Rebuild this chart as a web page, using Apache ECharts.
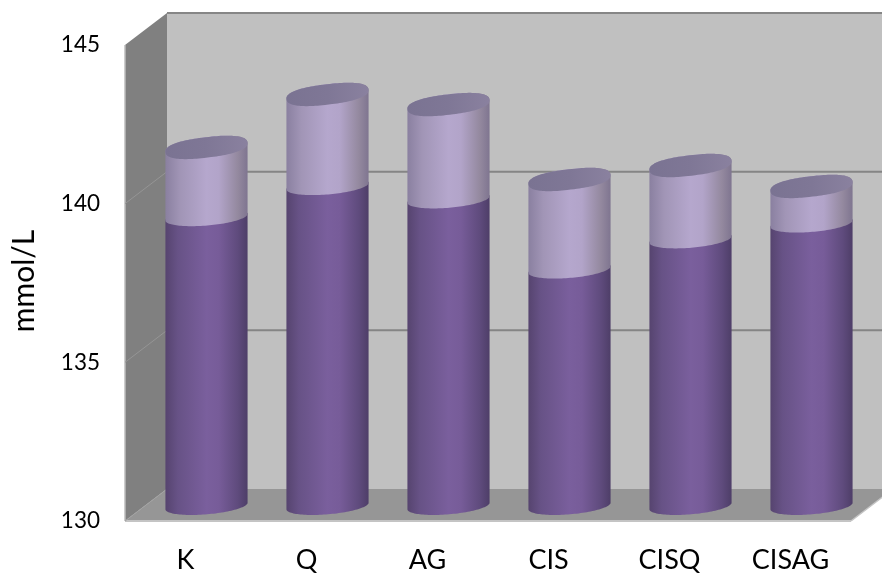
<!DOCTYPE html>
<html>
<head>
<meta charset="utf-8">
<style>html,body{margin:0;padding:0;background:#fff}#c{width:882px;height:574px}</style>
<script src="https://cdn.jsdelivr.net/npm/echarts@6/dist/echarts.min.js"></script>
</head>
<body>
<div id="c"></div>
<script>
var categories = ['K', 'Q', 'AG', 'CIS', 'CISQ', 'CISAG'];
var lowerValues = [139.1, 140.08, 139.66, 137.45, 138.4, 138.9];
var upperHeights = [2.2, 2.89, 2.99, 2.84, 2.33, 1.17];
var gridTicks = [135, 140];
var yMin = 130, yMax = 145, yStep = 5;

var DX = 42, DY = -32;   // wall depth
var CYL_DX = 21, CYL_DY = -15;
var SECTION_RIM = { b: 8.3, tilt: -4.8 * Math.PI / 180, n: 2 };
var CAP_RIM = { b: 10.2, tilt: -6.8 * Math.PI / 180, n: 2.4 };

// outline of a tilted rim, split into the front (lower) and back (upper) halves
function rim(cx, cy, a, spec) {
  var pts = [], N = 120, ct = Math.cos(spec.tilt), st = Math.sin(spec.tilt), e = 2 / spec.n;
  for (var i = 0; i < N; i++) {
    var t = 2 * Math.PI * i / N;
    var c = Math.cos(t), s = Math.sin(t);
    var u = Math.sign(c) * Math.pow(Math.abs(c), e) * a;
    var v = Math.sign(s) * Math.pow(Math.abs(s), e) * spec.b;
    pts.push([u * ct - v * st, u * st + v * ct]);
  }
  var r = 0, l = 0;
  pts.forEach(function (p, i) {
    if (p[0] > pts[r][0]) r = i;
    if (p[0] < pts[l][0]) l = i;
  });
  var k = a / pts[r][0];
  var abs = pts.map(function (p) { return [cx + p[0] * k, cy + p[1]]; });
  var lower = [], upper = [];
  for (var j = r; ; j = (j + 1) % N) { lower.push(abs[j]); if (j === l) break; }
  for (var m = l; ; m = (m + 1) % N) { upper.push(abs[m]); if (m === r) break; }
  return { lower: lower, upper: upper };
}
function hGrad(stops) {
  return new echarts.graphic.LinearGradient(0, 0, 1, 0, stops.map(function (s) {
    return { offset: s[0], color: s[1] };
  }));
}
var darkFill = [[0, '#56446f'], [0.15, '#675286'], [0.5, '#7a5f9d'], [0.65, '#775c99'], [0.88, '#5f4b7d'], [1, '#4e3e68']];
var lightFill = [[0, '#8a80a0'], [0.18, '#a195b6'], [0.5, '#b5a7cd'], [0.65, '#b2a4c9'], [0.88, '#94899f'], [1, '#7f7590']];
var capFill = [[0, '#7a7392'], [0.5, '#7f7796'], [1, '#8a819f']];

function renderWalls(params, api) {
  var bottom = api.coord([0, yMin])[1], top = api.coord([0, yMax])[1];
  var left = params.coordSys.x, right = left + params.coordSys.width;
  var kids = [
    { type: 'polygon', shape: { points: [[left + DX, top + DY], [right + DX, top + DY], [right + DX, bottom + DY], [left + DX, bottom + DY]] }, style: { fill: '#c0c0c0' } },
    { type: 'polygon', shape: { points: [[left, top], [left + DX, top + DY], [left + DX, bottom + DY], [left, bottom]] }, style: { fill: '#808080' } },
    { type: 'polygon', shape: { points: [[left, bottom], [right, bottom], [right + DX, bottom + DY], [left + DX, bottom + DY]] }, style: { fill: '#969696' } },
    { type: 'line', shape: { x1: left + DX, y1: top + DY, x2: right + DX, y2: top + DY }, style: { stroke: '#868686', lineWidth: 2 } },
    { type: 'line', shape: { x1: left, y1: bottom, x2: right, y2: bottom }, style: { stroke: '#c4c4c4', lineWidth: 2 } },
    { type: 'line', shape: { x1: right, y1: bottom, x2: right + DX, y2: bottom + DY }, style: { stroke: '#c4c4c4', lineWidth: 1.5 } },
    { type: 'line', shape: { x1: left, y1: top, x2: left, y2: bottom }, style: { stroke: '#bdbdbd', lineWidth: 1.5 } },
    { type: 'line', shape: { x1: left, y1: bottom, x2: left + DX, y2: bottom + DY }, style: { stroke: '#a2a2a2', lineWidth: 1 } }
  ];
  gridTicks.forEach(function (v) {
    var y = api.coord([0, v])[1];
    kids.push({ type: 'line', shape: { x1: left, y1: y, x2: left + DX, y2: y + DY }, style: { stroke: '#959595', lineWidth: 1 } });
    kids.push({ type: 'line', shape: { x1: left + DX, y1: y + DY, x2: right + DX, y2: y + DY }, style: { stroke: '#858585', lineWidth: 2 } });
  });
  return { type: 'group', children: kids };
}

function cylinderPiece(api, isUpper, fill) {
  var i = api.value(0);
  var p0 = api.coord([i, api.value(1)]);
  var p1 = api.coord([i, api.value(2)]);
  var a = api.size([1, 0])[0] * 0.3395;
  var cx = p0[0] + CYL_DX, y0 = p0[1] + CYL_DY, y1 = p1[1] + CYL_DY;
  var low = rim(cx, y0, a, SECTION_RIM);
  var high = rim(cx, y1, a, isUpper ? CAP_RIM : SECTION_RIM);
  var kids = [{ type: 'polygon', shape: { points: low.lower.concat(high.upper) }, style: { fill: hGrad(fill) } }];
  if (isUpper) {
    kids.push({
      type: 'polygon',
      shape: { points: high.lower.concat(high.upper) },
      style: { fill: hGrad(capFill) }
    });
  }
  return { type: 'group', children: kids };
}

var lowerData = categories.map(function (c, i) { return [i, yMin, lowerValues[i]]; });
var upperData = categories.map(function (c, i) { return [i, lowerValues[i], lowerValues[i] + upperHeights[i]]; });

var chart = echarts.init(document.getElementById('c'), null, { renderer: 'canvas' });
chart.setOption({
  animation: false,
  backgroundColor: '#ffffff',
  grid: { left: 125, right: 31, top: 45, bottom: 53, containLabel: false },
  xAxis: {
    type: 'category', data: categories,
    axisLine: { show: false }, axisTick: { show: false }, splitLine: { show: false },
    axisLabel: { color: '#000', fontFamily: 'Lato', fontSize: 27, margin: 26, interval: 0 }
  },
  yAxis: {
    type: 'value', min: yMin, max: yMax, interval: yStep,
    name: 'mmol/L', nameLocation: 'middle', nameGap: 86, nameRotate: 90,
    nameTextStyle: { color: '#000', fontFamily: 'Lato', fontSize: 30, padding: [0, 0, 0, 4] },
    axisLine: { show: false }, axisTick: { show: false }, splitLine: { show: false },
    axisLabel: { color: '#000', fontFamily: 'Lato', fontSize: 22.5, margin: 25, padding: [3, 0, 0, 0] }
  },
  series: [
    { type: 'custom', name: 'walls', silent: true, z: 1, data: [[0, yMin]], renderItem: renderWalls, encode: { x: 0, y: 1 }, clip: false },
    { type: 'custom', name: 'lower', silent: true, z: 2, data: lowerData, encode: { x: 0, y: [1, 2] }, clip: false,
      renderItem: function (p, api) { return cylinderPiece(api, false, darkFill); } },
    { type: 'custom', name: 'upper', silent: true, z: 3, data: upperData, encode: { x: 0, y: [1, 2] }, clip: false,
      renderItem: function (p, api) { return cylinderPiece(api, true, lightFill); } }
  ]
});
</script>
</body>
</html>
